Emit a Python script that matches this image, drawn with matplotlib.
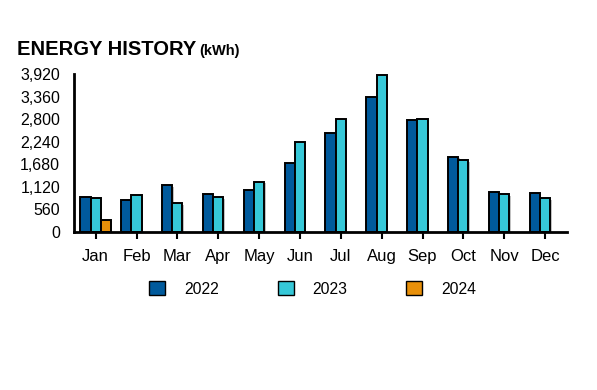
import matplotlib.pyplot as plt
import matplotlib.patches as mpatches
import matplotlib.patheffects as pe
import numpy as np

plt.rcParams['font.family'] = ['Liberation Sans', 'DejaVu Sans']

months = ['Jan', 'Feb', 'Mar', 'Apr', 'May', 'Jun',
          'Jul', 'Aug', 'Sep', 'Oct', 'Nov', 'Dec']
kwh_2022 = [866, 802, 1156, 940, 1040, 1725, 2460, 3341, 2782, 1866, 1000, 965]
kwh_2023 = [842, 908, 710, 858, 1254, 2228, 2814, 3903, 2806, 1782, 940, 842]
kwh_2024 = [307]
yticks = [0, 560, 1120, 1680, 2240, 2800, 3360, 3920]

c22 = '#005a9c'
c23 = '#36c8d8'
c24 = '#e8900a'

fig = plt.figure(figsize=(5.97, 3.90), dpi=100)
ax = fig.add_axes([0.124, 0.405, 0.826, 0.405])

x = np.arange(len(months))
w = 0.25
shadow = [pe.SimplePatchShadow(offset=(1, -1), shadow_rgbFace='#999999', alpha=0.6), pe.Normal()]
for xs, vals, col in [(x - w, kwh_2022, c22), (x, kwh_2023, c23),
                      (np.arange(len(kwh_2024)) + w, kwh_2024, c24)]:
    bars = ax.bar(xs, vals, width=w, color=col, edgecolor='black', linewidth=1.4)
    for b in bars:
        b.set_path_effects(shadow)

ax.set_xlim(-0.53, 11.54)
ax.set_ylim(0, 3920)
ax.set_yticks(yticks)
ax.set_yticklabels([f'{v:,}' for v in yticks], fontsize=11.5)
ax.set_xticks(x)
ax.set_xticklabels(months, fontsize=12)
ax.tick_params(axis='y', length=0, pad=10)
ax.tick_params(axis='x', length=5, width=1.5, direction='out', pad=7)
for s in ['top', 'right']:
    ax.spines[s].set_visible(False)
for s in ['left', 'bottom']:
    ax.spines[s].set_linewidth(2)

fig.text(0.028, 0.86, 'ENERGY HISTORY', fontsize=14.5, fontweight='bold')
fig.text(0.334, 0.86, '(kWh)', fontsize=10.5, fontweight='bold')

handles = [mpatches.Patch(facecolor=c, edgecolor='black', linewidth=1) for c in (c22, c23, c24)]
fig.legend(handles, ['2022', '2023', '2024'], loc='center', bbox_to_anchor=(0.524, 0.259),
           ncol=3, frameon=False, fontsize=11.3, handlelength=1.02, handleheight=1.02,
           handletextpad=1.2, columnspacing=3.75)

fig.savefig('out.png', dpi=100)
